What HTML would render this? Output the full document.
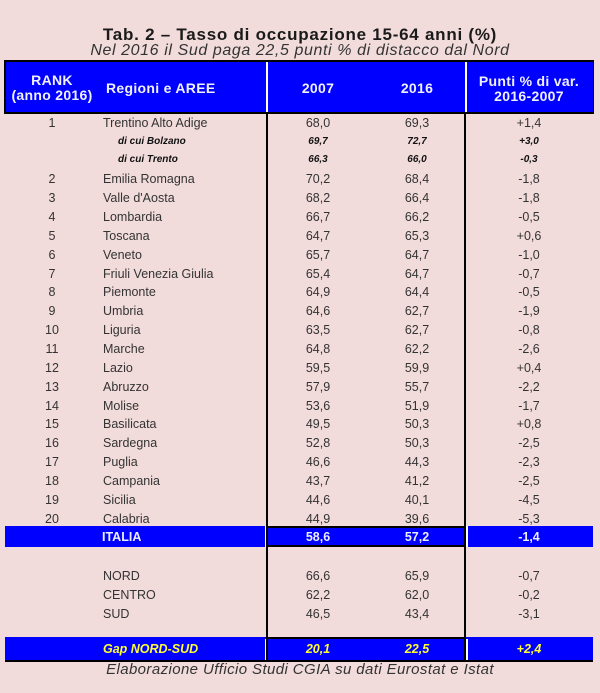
<!DOCTYPE html>
<html><head><meta charset="utf-8">
<style>
html,body{margin:0;padding:0;}
body{width:600px;height:693px;background:#f2dcdb;position:relative;overflow:hidden;font-family:"Liberation Sans","DejaVu Sans",sans-serif;color:#333;}
.a{position:absolute;}
.t{position:absolute;white-space:nowrap;}
.c{text-align:center;}
.row{position:absolute;left:0;width:600px;height:18px;line-height:18px;font-size:12.5px;color:#333;}
.row .rk{position:absolute;left:27px;width:50px;text-align:center;}
.row .nm{position:absolute;left:103px;}
.row .v1{position:absolute;left:283px;width:70px;text-align:center;}
.row .v2{position:absolute;left:382px;width:70px;text-align:center;}
.row .v3{position:absolute;left:494px;width:70px;text-align:center;}
.sub{font-size:10px;font-weight:bold;font-style:italic;color:#111;}
.sub .nm{left:118px;}
.blk{background:#000;position:absolute;}
.wht{background:#fff;position:absolute;}
.blue{background:#0000ff;position:absolute;}
.hd{position:absolute;color:#f0f0ff;font-weight:bold;font-size:14px;letter-spacing:0.3px;text-align:center;line-height:15px;white-space:nowrap;}
</style></head><body>

<div class="t c" style="left:0;width:600px;top:25px;font-size:17px;letter-spacing:0.75px;font-weight:bold;color:#1a1a1a;line-height:19px;">Tab. 2 – Tasso di occupazione 15-64 anni (%)</div>
<div class="t c" style="left:0;width:600px;top:42px;font-size:16px;letter-spacing:0.6px;font-style:italic;color:#333;line-height:18px;">Nel 2016 il Sud paga 22,5 punti % di distacco dal Nord</div>

<!-- header -->
<div class="blk" style="left:4px;top:60px;width:590px;height:54px;"></div>
<div class="blue" style="left:5.5px;top:62px;width:587px;height:50px;"></div>
<div class="wht" style="left:266px;top:62px;width:2px;height:50px;"></div>
<div class="wht" style="left:465px;top:62px;width:2px;height:50px;"></div>
<div class="hd" style="left:2px;width:100px;top:73px;">RANK<br>(anno 2016)</div>
<div class="hd" style="left:106px;top:81px;text-align:left;">Regioni e AREE</div>
<div class="hd" style="left:283px;width:70px;top:81px;">2007</div>
<div class="hd" style="left:382px;width:70px;top:81px;">2016</div>
<div class="hd" style="left:469px;width:120px;top:74px;">Punti % di var.<br>2016-2007</div>

<!-- middle box lines -->
<div class="blk" style="left:266px;top:113px;width:2px;height:547px;"></div>
<div class="blk" style="left:464px;top:113px;width:2px;height:547px;"></div>

<!-- data rows -->
<div class="row" style="top:114px;"><span class="rk">1</span><span class="nm">Trentino Alto Adige</span><span class="v1">68,0</span><span class="v2">69,3</span><span class="v3">+1,4</span></div>
<div class="row sub" style="top:132.5px;"><span class="nm">di cui Bolzano</span><span class="v1">69,7</span><span class="v2">72,7</span><span class="v3">+3,0</span></div>
<div class="row sub" style="top:151.4px;"><span class="nm">di cui Trento</span><span class="v1">66,3</span><span class="v2">66,0</span><span class="v3">-0,3</span></div>
<div class="row" style="top:170.3px;"><span class="rk">2</span><span class="nm">Emilia Romagna</span><span class="v1">70,2</span><span class="v2">68,4</span><span class="v3">-1,8</span></div>
<div class="row" style="top:189.1px;"><span class="rk">3</span><span class="nm">Valle d'Aosta</span><span class="v1">68,2</span><span class="v2">66,4</span><span class="v3">-1,8</span></div>
<div class="row" style="top:208px;"><span class="rk">4</span><span class="nm">Lombardia</span><span class="v1">66,7</span><span class="v2">66,2</span><span class="v3">-0,5</span></div>
<div class="row" style="top:226.9px;"><span class="rk">5</span><span class="nm">Toscana</span><span class="v1">64,7</span><span class="v2">65,3</span><span class="v3">+0,6</span></div>
<div class="row" style="top:245.7px;"><span class="rk">6</span><span class="nm">Veneto</span><span class="v1">65,7</span><span class="v2">64,7</span><span class="v3">-1,0</span></div>
<div class="row" style="top:264.6px;"><span class="rk">7</span><span class="nm">Friuli Venezia Giulia</span><span class="v1">65,4</span><span class="v2">64,7</span><span class="v3">-0,7</span></div>
<div class="row" style="top:283.4px;"><span class="rk">8</span><span class="nm">Piemonte</span><span class="v1">64,9</span><span class="v2">64,4</span><span class="v3">-0,5</span></div>
<div class="row" style="top:302.3px;"><span class="rk">9</span><span class="nm">Umbria</span><span class="v1">64,6</span><span class="v2">62,7</span><span class="v3">-1,9</span></div>
<div class="row" style="top:321.1px;"><span class="rk">10</span><span class="nm">Liguria</span><span class="v1">63,5</span><span class="v2">62,7</span><span class="v3">-0,8</span></div>
<div class="row" style="top:340px;"><span class="rk">11</span><span class="nm">Marche</span><span class="v1">64,8</span><span class="v2">62,2</span><span class="v3">-2,6</span></div>
<div class="row" style="top:358.9px;"><span class="rk">12</span><span class="nm">Lazio</span><span class="v1">59,5</span><span class="v2">59,9</span><span class="v3">+0,4</span></div>
<div class="row" style="top:377.7px;"><span class="rk">13</span><span class="nm">Abruzzo</span><span class="v1">57,9</span><span class="v2">55,7</span><span class="v3">-2,2</span></div>
<div class="row" style="top:396.6px;"><span class="rk">14</span><span class="nm">Molise</span><span class="v1">53,6</span><span class="v2">51,9</span><span class="v3">-1,7</span></div>
<div class="row" style="top:415.4px;"><span class="rk">15</span><span class="nm">Basilicata</span><span class="v1">49,5</span><span class="v2">50,3</span><span class="v3">+0,8</span></div>
<div class="row" style="top:434.3px;"><span class="rk">16</span><span class="nm">Sardegna</span><span class="v1">52,8</span><span class="v2">50,3</span><span class="v3">-2,5</span></div>
<div class="row" style="top:453.1px;"><span class="rk">17</span><span class="nm">Puglia</span><span class="v1">46,6</span><span class="v2">44,3</span><span class="v3">-2,3</span></div>
<div class="row" style="top:472px;"><span class="rk">18</span><span class="nm">Campania</span><span class="v1">43,7</span><span class="v2">41,2</span><span class="v3">-2,5</span></div>
<div class="row" style="top:490.9px;"><span class="rk">19</span><span class="nm">Sicilia</span><span class="v1">44,6</span><span class="v2">40,1</span><span class="v3">-4,5</span></div>
<div class="row" style="top:509.7px;"><span class="rk">20</span><span class="nm">Calabria</span><span class="v1">44,9</span><span class="v2">39,6</span><span class="v3">-5,3</span></div>

<!-- ITALIA row -->
<div class="blue" style="left:5px;top:526px;width:588px;height:21px;"></div>
<div class="blk" style="left:266px;top:526px;width:200px;height:2px;"></div>
<div class="blk" style="left:266px;top:545px;width:200px;height:2px;"></div>
<div class="blk" style="left:266px;top:526px;width:2px;height:21px;"></div>
<div class="blk" style="left:464px;top:526px;width:2px;height:21px;"></div>
<div class="wht" style="left:264.5px;top:526px;width:1.5px;height:21px;"></div>
<div class="wht" style="left:466px;top:526px;width:1.5px;height:21px;"></div>
<div class="row" style="top:527.5px;font-weight:bold;color:#eef;"><span class="nm" style="left:102px;">ITALIA</span><span class="v1">58,6</span><span class="v2">57,2</span><span class="v3">-1,4</span></div>

<!-- macro areas -->
<div class="row" style="top:567px;"><span class="nm">NORD</span><span class="v1">66,6</span><span class="v2">65,9</span><span class="v3">-0,7</span></div>
<div class="row" style="top:586px;"><span class="nm">CENTRO</span><span class="v1">62,2</span><span class="v2">62,0</span><span class="v3">-0,2</span></div>
<div class="row" style="top:605px;"><span class="nm">SUD</span><span class="v1">46,5</span><span class="v2">43,4</span><span class="v3">-3,1</span></div>

<!-- Gap row -->
<div class="blue" style="left:5px;top:637px;width:588px;height:23px;"></div>
<div class="blk" style="left:266px;top:637px;width:200px;height:2px;"></div>
<div class="blk" style="left:266px;top:637px;width:2px;height:23px;"></div>
<div class="blk" style="left:464px;top:637px;width:2px;height:23px;"></div>
<div class="wht" style="left:264.5px;top:639px;width:1.5px;height:21px;"></div>
<div class="wht" style="left:466px;top:639px;width:1.5px;height:21px;"></div>
<div class="blk" style="left:5px;top:659.5px;width:588px;height:2.5px;"></div>
<div class="row" style="top:640px;font-weight:bold;font-style:italic;color:#ffff33;"><span class="nm">Gap NORD-SUD</span><span class="v1">20,1</span><span class="v2">22,5</span><span class="v3">+2,4</span></div>

<div class="t c" style="left:0;width:600px;top:661px;font-size:15px;letter-spacing:0.4px;font-style:italic;color:#333;line-height:17px;">Elaborazione Ufficio Studi CGIA su dati Eurostat e Istat</div>

</body></html>
